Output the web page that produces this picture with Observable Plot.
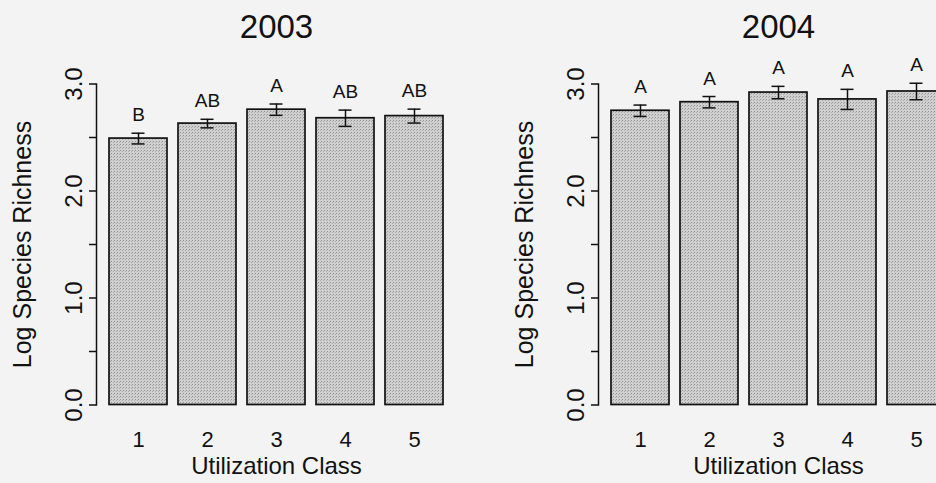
<!DOCTYPE html>
<html>
<head>
<meta charset="utf-8">
<script src="https://cdn.jsdelivr.net/npm/d3@7"></script>
<script src="https://cdn.jsdelivr.net/npm/@observablehq/plot@0.6"></script>
<style>
  html, body { margin: 0; padding: 0; background: #f3f3f3; }
  #wrap { position: relative; width: 936px; height: 483px; overflow: hidden; background: #f3f3f3; }
  .panel { position: absolute; top: 0; width: 468px; height: 483px; }
  .panel svg { max-width: none !important; overflow: visible; }
</style>
</head>
<body>
<div id="wrap">
  <div id="p2003" class="panel" style="left:0px"></div>
  <div id="p2004" class="panel" style="left:502px"></div>
</div>
<script>
// ---- data ----
const classes = [1, 2, 3, 4, 5];
const years = ["2003", "2004"];
const mean2003 = [2.49, 2.63, 2.76, 2.68, 2.70];
const se2003   = [0.05, 0.04, 0.053, 0.076, 0.065];
const letters2003 = ["B", "AB", "A", "AB", "AB"];
const mean2004 = [2.75, 2.83, 2.92, 2.856, 2.93];
const se2004   = [0.053, 0.053, 0.058, 0.094, 0.077];
const letters2004 = ["A", "A", "A", "A", "A"];
const yTicks = [0, 0.5, 1, 1.5, 2, 2.5, 3];
const yTickLabels = ["0.0", "", "1.0", "", "2.0", "", "3.0"];
const yLabel = "Log Species Richness";
const xLabel = "Utilization Class";

const font = "Liberation Sans, Arial, Helvetica, sans-serif";

function panel(title, means, ses, letters) {
  const rows = classes.map((c, i) => ({cls: c, mean: means[i], lo: means[i] - ses[i], hi: means[i] + ses[i], letter: letters[i]}));
  const svg = Plot.plot({
    width: 468,
    height: 483,
    marginLeft: 96,
    marginRight: 12,
    marginTop: 83.5,
    marginBottom: 78.5,
    style: {background: "transparent", fontFamily: font, color: "#111"},
    x: {type: "band", domain: classes, range: [96, 456], paddingInner: 0.16, paddingOuter: 0.188, align: 0.5},
    y: {domain: [0, 3], range: [404.5, 83.5]},
    marks: [
      Plot.barY(rows, {x: "cls", y: "mean", fill: "url(#stipple)", stroke: "#111", strokeWidth: 1.7}),
      Plot.ruleX(rows, {x: "cls", y1: "lo", y2: "hi", stroke: "#111", strokeWidth: 1.5}),
      Plot.tickY(rows, {x: "cls", y: "lo", stroke: "#111", strokeWidth: 1.5, inset: 22.5}),
      Plot.tickY(rows, {x: "cls", y: "hi", stroke: "#111", strokeWidth: 1.5, inset: 22.5}),
      Plot.text(rows, {x: "cls", y: "hi", text: "letter", dy: -18, fontSize: 19, fill: "#111"}),
      Plot.axisY({ticks: yTicks, tickSize: 7, tickPadding: 8, tickRotate: -90, fontSize: 24, stroke: "#111", strokeWidth: 1.5,
        tickFormat: (d) => yTickLabels[yTicks.indexOf(d)], label: null}),
      Plot.frame({anchor: "left", stroke: "#111", strokeWidth: 1.5}),
      Plot.axisX({tickSize: 0, tickPadding: 26, fontSize: 22, label: null}),
      Plot.text([yLabel], {frameAnchor: "left", textAnchor: "middle", lineAnchor: "middle", rotate: -90, dx: -74, fontSize: 25, fill: "#111", text: (d) => d}),
      Plot.text([xLabel], {frameAnchor: "bottom", lineAnchor: "top", dy: 52, fontSize: 24, fill: "#111", text: (d) => d}),
      Plot.text([title], {frameAnchor: "top", lineAnchor: "top", dy: -69, fontSize: 33, fill: "#111", text: (d) => d})
    ]
  });
  // stipple texture for the bars
  const defs = d3.select(svg).insert("defs", ":first-child");
  const pat = defs.append("pattern").attr("id", "stipple").attr("patternUnits", "userSpaceOnUse")
    .attr("width", 3).attr("height", 3);
  pat.append("rect").attr("width", 3).attr("height", 3).attr("fill", "#d0d0d0");
  pat.append("rect").attr("x", 0).attr("y", 0).attr("width", 1).attr("height", 1).attr("fill", "#939393");
  pat.append("rect").attr("x", 2).attr("y", 1).attr("width", 1).attr("height", 1).attr("fill", "#ababab");
  return svg;
}

document.getElementById("p2003").appendChild(panel(years[0], mean2003, se2003, letters2003));
document.getElementById("p2004").appendChild(panel(years[1], mean2004, se2004, letters2004));
</script>
</body>
</html>
